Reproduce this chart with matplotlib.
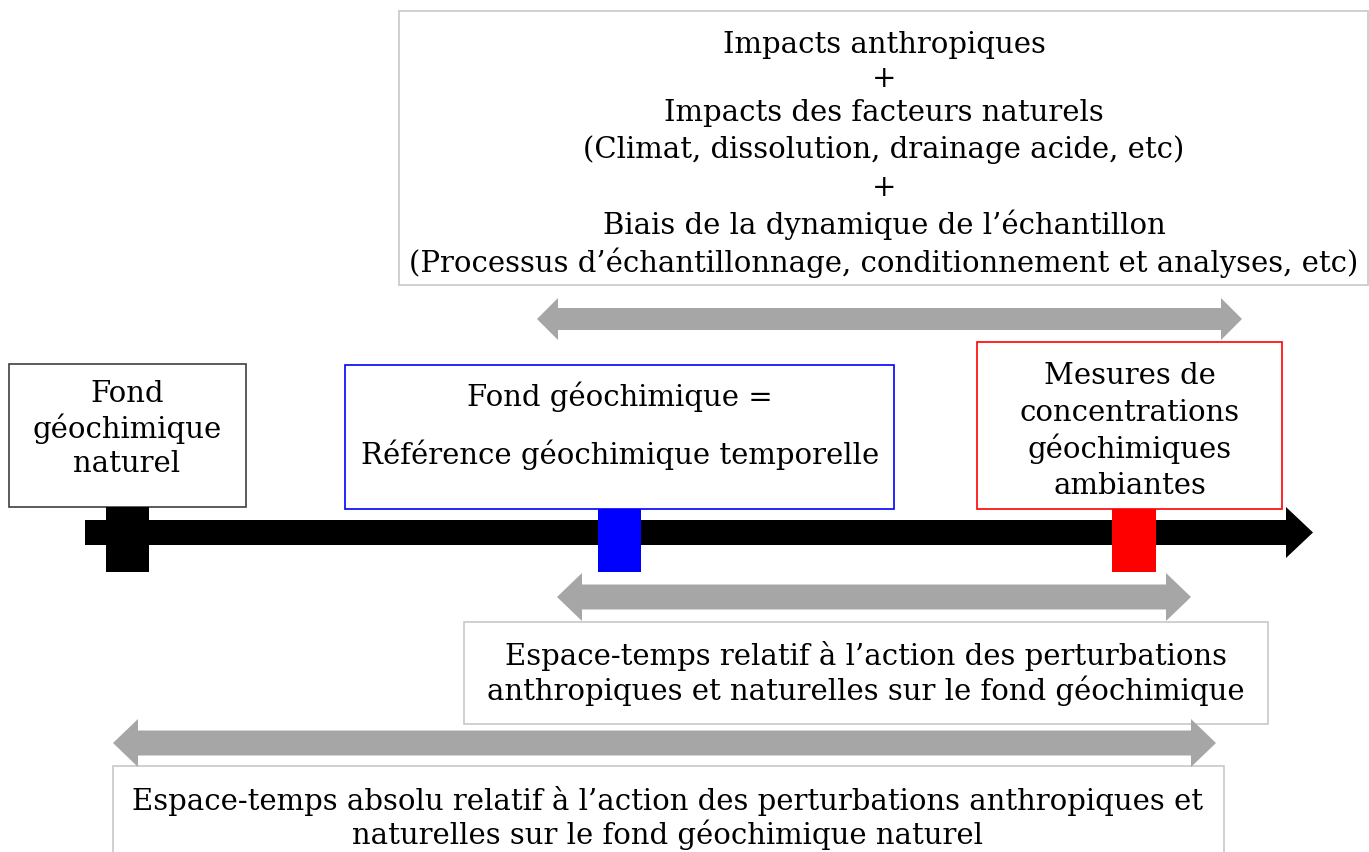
import matplotlib
matplotlib.use("Agg")
import matplotlib.pyplot as plt
from matplotlib.patches import Rectangle, Polygon

# Texts of the diagram
top_lines = ["Impacts anthropiques", "+", "Impacts des facteurs naturels",
             "(Climat, dissolution, drainage acide, etc)", "+",
             "Biais de la dynamique de l\u2019\u00e9chantillon",
             "(Processus d\u2019\u00e9chantillonnage, conditionnement et analyses, etc)"]
natural_lines = ["Fond", "g\u00e9ochimique", "naturel"]
temporal_lines = ["Fond g\u00e9ochimique =", "R\u00e9f\u00e9rence g\u00e9ochimique temporelle"]
ambient_lines = ["Mesures de", "concentrations", "g\u00e9ochimiques", "ambiantes"]
relative_lines = ["Espace-temps relatif \u00e0 l\u2019action des perturbations",
                  "anthropiques et naturelles sur le fond g\u00e9ochimique"]
absolute_lines = ["Espace-temps absolu relatif \u00e0 l\u2019action des perturbations anthropiques et",
                  "naturelles sur le fond g\u00e9ochimique naturel"]

plt.rcParams['font.family'] = ['DejaVu Serif']
FS = 21
GREY = '#a6a6a6'
W, H = 1369, 853

fig = plt.figure(figsize=(W / 100, H / 100), dpi=100)
ax = fig.add_axes([0, 0, 1, 1])
ax.set_xlim(0, W)
ax.set_ylim(H, 0)
ax.axis('off')


def box(x0, y0, x1, y1, color, lw=1.2):
    ax.add_patch(Rectangle((x0, y0), x1 - x0, y1 - y0, fill=True, facecolor='white',
                           edgecolor=color, lw=lw, zorder=2))


def lines(xc, ys, texts):
    for y, t in zip(ys, texts):
        ax.text(xc, y, t, ha='center', va='center', fontsize=FS, zorder=5)


def double_arrow(x0, x1, yc, sw, hw, hl, color=GREY):
    pts = [(x0, yc), (x0 + hl, yc - hw), (x0 + hl, yc - sw), (x1 - hl, yc - sw),
           (x1 - hl, yc - hw), (x1, yc), (x1 - hl, yc + hw), (x1 - hl, yc + sw),
           (x0 + hl, yc + sw), (x0 + hl, yc + hw)]
    ax.add_patch(Polygon(pts, closed=True, facecolor=color, edgecolor='none', zorder=3))


# top box
box(399, 12, 1368, 286, '#c8c8c8')
lines(884, [45, 79, 113, 150, 188, 225, 263], top_lines)
double_arrow(537, 1242, 320, 11, 21, 21)

# timeline
ax.add_patch(Polygon([(85, 521), (1286, 521), (1286, 508), (1313, 533.5), (1286, 559),
                      (1286, 546), (85, 546)], closed=True, facecolor='black',
                     edgecolor='none', zorder=3))

# three boxes above the timeline
box(9, 365, 246, 508, '#404040')
lines(127, [394, 429, 464], natural_lines)
box(345, 366, 894, 510, 'blue')
lines(620, [397, 455], temporal_lines)
box(977, 343, 1282, 510, 'red')
lines(1130, [376, 413, 449, 486], ambient_lines)

# markers on the timeline
ax.add_patch(Rectangle((106, 508), 43, 65, facecolor='black', edgecolor='none', zorder=4))
ax.add_patch(Rectangle((598, 510), 43, 63, facecolor='blue', edgecolor='none', zorder=4))
ax.add_patch(Rectangle((1112, 510), 44, 63, facecolor='red', edgecolor='none', zorder=4))

# relative space-time
double_arrow(557, 1191, 598, 12.5, 24, 25)
box(464, 623, 1268, 725, '#c8c8c8')
lines(866, [656, 691], relative_lines)

# absolute space-time
double_arrow(113, 1216, 744, 12.5, 24, 25)
box(113, 767, 1224, 900, '#c8c8c8')
lines(668, [801, 835], absolute_lines)

fig.savefig('out.png', dpi=100, facecolor='white')
